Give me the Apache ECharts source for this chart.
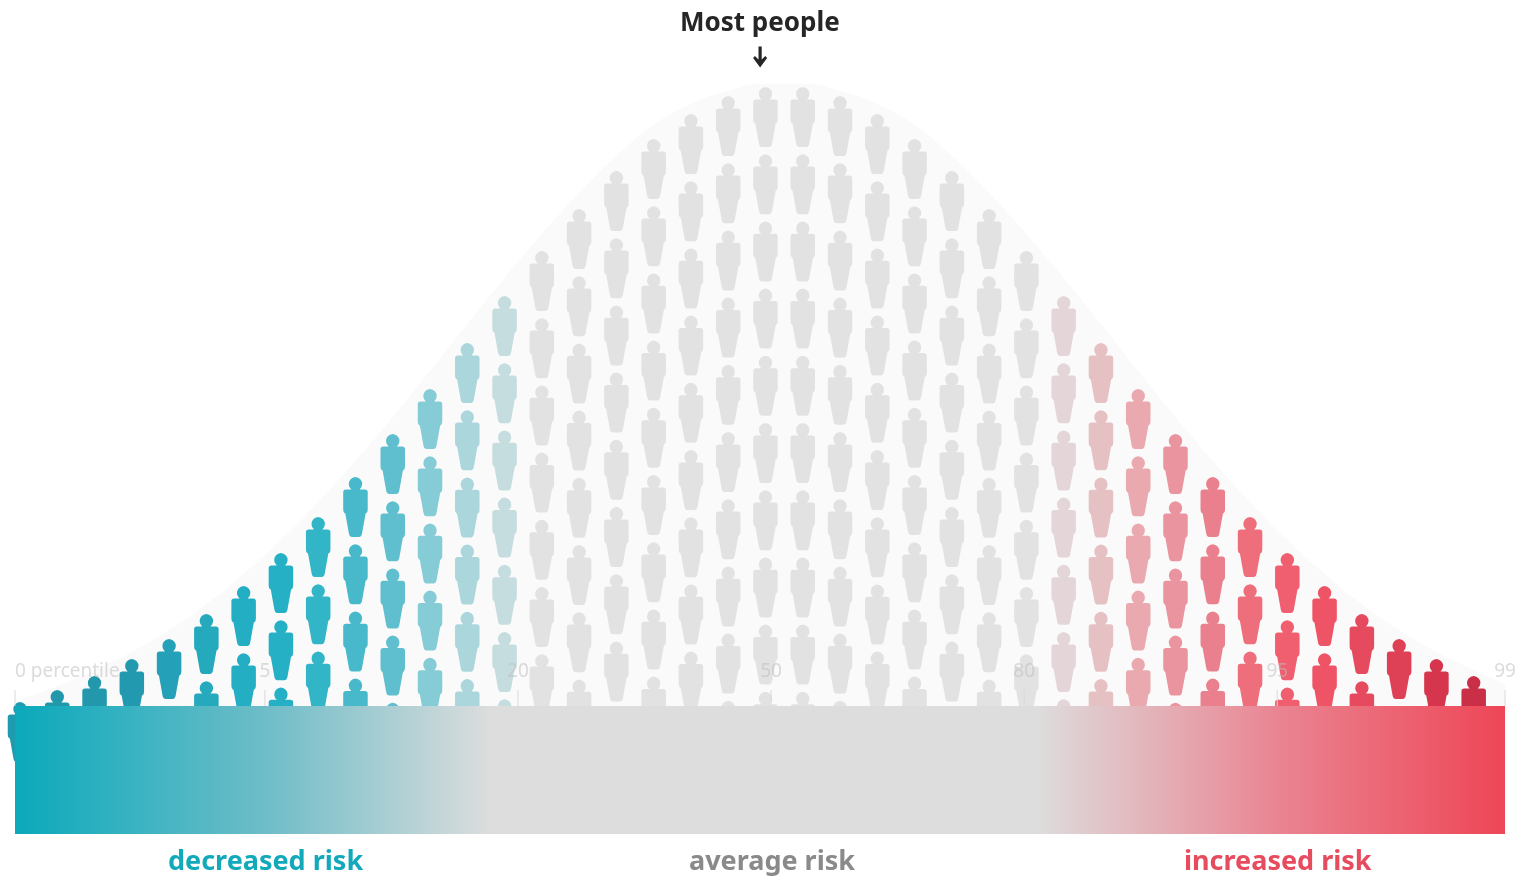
<!DOCTYPE html>
<html>
<head>
<meta charset="utf-8">
<title>Risk distribution</title>
<style>
html, body { margin: 0; padding: 0; background: #fff; }
#chart { width: 1523px; height: 878px; }
</style>
<script src="https://cdn.jsdelivr.net/npm/echarts@6/dist/echarts.min.js"></script>
</head>
<body>
<div id="chart"></div>
<script>
// height of the top head of each column, above the top edge of the bar
var columnTops = [4, 16, 30, 47, 67, 92, 120, 153, 189, 229, 272, 317, 363, 410, 455, 497, 535, 567, 592, 610,
    619, 619, 610, 592, 567, 535, 497, 455, 410, 363, 317, 272, 229, 189, 153, 120, 92, 67, 47, 30];
var columnColors = ['#1f9bb0', '#2298ad', '#2397ac', '#2399b0', '#24a1b8', '#25a9bd', '#24aec3', '#26b0c5', '#33b5c8', '#47b9ca',
    '#5fbfce', '#85ccd6', '#aad6dc', '#c6dde0', '#e2e2e2', '#e2e2e2', '#e2e2e2', '#e2e2e2', '#e2e2e2', '#e2e2e2',
    '#e2e2e2', '#e2e2e2', '#e2e2e2', '#e2e2e2', '#e2e2e2', '#e2e2e2', '#e2e2e2', '#e2e2e2', '#e4d6d8', '#e6c1c4',
    '#e9a9af', '#e9949f', '#ea808d', '#ee6e7c', '#ef5f6f', '#ee5366', '#e64a5e', '#de4055', '#d5364d', '#c92f47'];
var rowGap = 67.2;

// outline of the pale bell behind the people: [column, height]
var bellOutline = [[-0.134, 2], [0, 6], [1, 20], [2, 36], [3, 54], [4, 76], [5, 102], [6, 132], [7, 166], [8, 204], [9, 245],
    [10, 289], [11, 335], [12, 382], [13, 428], [14, 472], [15, 513], [16, 550], [17, 581], [18, 602], [19, 615],
    [20, 622], [21, 622], [22, 615], [23, 602], [24, 581], [25, 550], [26, 513], [27, 472], [28, 428], [29, 382],
    [30, 335], [31, 289], [32, 245], [33, 204], [34, 166], [35, 132], [36, 102], [37, 76], [38, 54], [39, 36], [39.84, 22]];

var tickLabels = ['0 percentile', '5', '20', '50', '80', '95', '99'];
var tickColumns = [-0.134, 6.57, 13.36, 20.15, 26.94, 33.73, 39.84];
var arrowPoint = [[19.856, 649]];
var riskBar = [1];

var personPath = 'path://M12.25 0A7 7 0 0 1 16.4 12.4H21.7Q24.5 12.4 24.5 15.2V32.5Q24.5 35.5 23 36.2L22.4 36.6L18.9 56Q18.4 60 15.6 60H8.9Q6.1 60 5.6 56L2.1 36.6L1.5 36.2Q0 35.5 0 32.5V15.2Q0 12.4 2.8 12.4H8.1A7 7 0 0 1 12.25 0Z';
var arrowPath = 'path://M5.4 0H8.6V13L12.2 9.6L14 11.4L7 21L0 11.4L1.8 9.6L5.4 13Z';
var textFont = 'Noto Sans';

// one point per person, stacked down from each column top until hidden by the bar
var people = [];
for (var i = 0; i < columnTops.length; i++) {
    for (var h = columnTops[i]; h > 0; h -= rowGap) {
        people.push({
            value: [i, h - 30],
            itemStyle: { color: columnColors[i] }
        });
    }
}

var ticks = [];
for (var j = 0; j < tickLabels.length; j++) {
    ticks.push({
        value: [tickColumns[j], 8],
        label: {
            show: true,
            position: 'top',
            distance: 9,
            formatter: tickLabels[j],
            align: j == 0 ? 'left' : 'center'
        }
    });
}

var myChart = echarts.init(document.getElementById('chart'));
var option = {
    backgroundColor: '#fff',
    animation: false,
    title: [
        { text: 'Most people', left: 675, top: 6, textStyle: { fontFamily: textFont, fontSize: 26, fontWeight: 'bold', color: '#262626' } },
        { text: 'decreased risk', left: 163, top: 844, textStyle: { fontFamily: textFont, fontSize: 27, fontWeight: 'bold', color: '#12a9bb' } },
        { text: 'average risk', left: 684, top: 844, textStyle: { fontFamily: textFont, fontSize: 27, fontWeight: 'bold', color: '#8a8a8a' } },
        { text: 'increased risk', left: 1179, top: 844, textStyle: { fontFamily: textFont, fontSize: 27, fontWeight: 'bold', color: '#e64c5e' } }
    ],
    grid: [
        { left: 15, top: 0, width: 1490, height: 786 },
        { left: 15, top: 706, width: 1490, height: 128 }
    ],
    xAxis: [
        { type: 'value', gridIndex: 0, min: -0.134, max: 39.84, show: false },
        { type: 'category', gridIndex: 1, data: ['risk'], show: false }
    ],
    yAxis: [
        { type: 'value', gridIndex: 0, min: -80, max: 706, show: false },
        { type: 'value', gridIndex: 1, min: 0, max: 1, show: false }
    ],
    series: [
        {
            type: 'line',
            xAxisIndex: 0,
            yAxisIndex: 0,
            data: bellOutline,
            smooth: true,
            showSymbol: false,
            lineStyle: { width: 0 },
            areaStyle: { color: '#fafafa', opacity: 1 },
            silent: true,
            z: 1
        },
        {
            type: 'scatter',
            xAxisIndex: 0,
            yAxisIndex: 0,
            data: people,
            symbol: personPath,
            symbolSize: [24.5, 60],
            itemStyle: { opacity: 1 },
            clip: false,
            z: 2
        },
        {
            type: 'scatter',
            xAxisIndex: 0,
            yAxisIndex: 0,
            data: ticks,
            symbol: 'rect',
            symbolSize: [1, 16],
            itemStyle: { color: '#d9d9d9', opacity: 1 },
            label: { fontFamily: textFont, fontSize: 19, color: 'rgba(190,190,190,0.55)' },
            clip: false,
            z: 3
        },
        {
            type: 'scatter',
            xAxisIndex: 0,
            yAxisIndex: 0,
            data: arrowPoint,
            symbol: arrowPath,
            symbolSize: [14, 21],
            itemStyle: { color: '#262626', opacity: 1 },
            clip: false,
            z: 3
        },
        {
            type: 'bar',
            xAxisIndex: 1,
            yAxisIndex: 1,
            data: riskBar,
            barWidth: '100%',
            itemStyle: {
                color: {
                    type: 'linear', x: 0, y: 0, x2: 1, y2: 0,
                    colorStops: [
                        { offset: 0, color: '#0aa9bb' },
                        { offset: 0.17, color: '#6fbdc8' },
                        { offset: 0.32, color: '#dddddd' },
                        { offset: 0.685, color: '#dddddd' },
                        { offset: 0.85, color: '#ea8391' },
                        { offset: 1, color: '#ee4656' }
                    ]
                }
            },
            z: 5
        }
    ]
};
myChart.setOption(option);
</script>
</body>
</html>
